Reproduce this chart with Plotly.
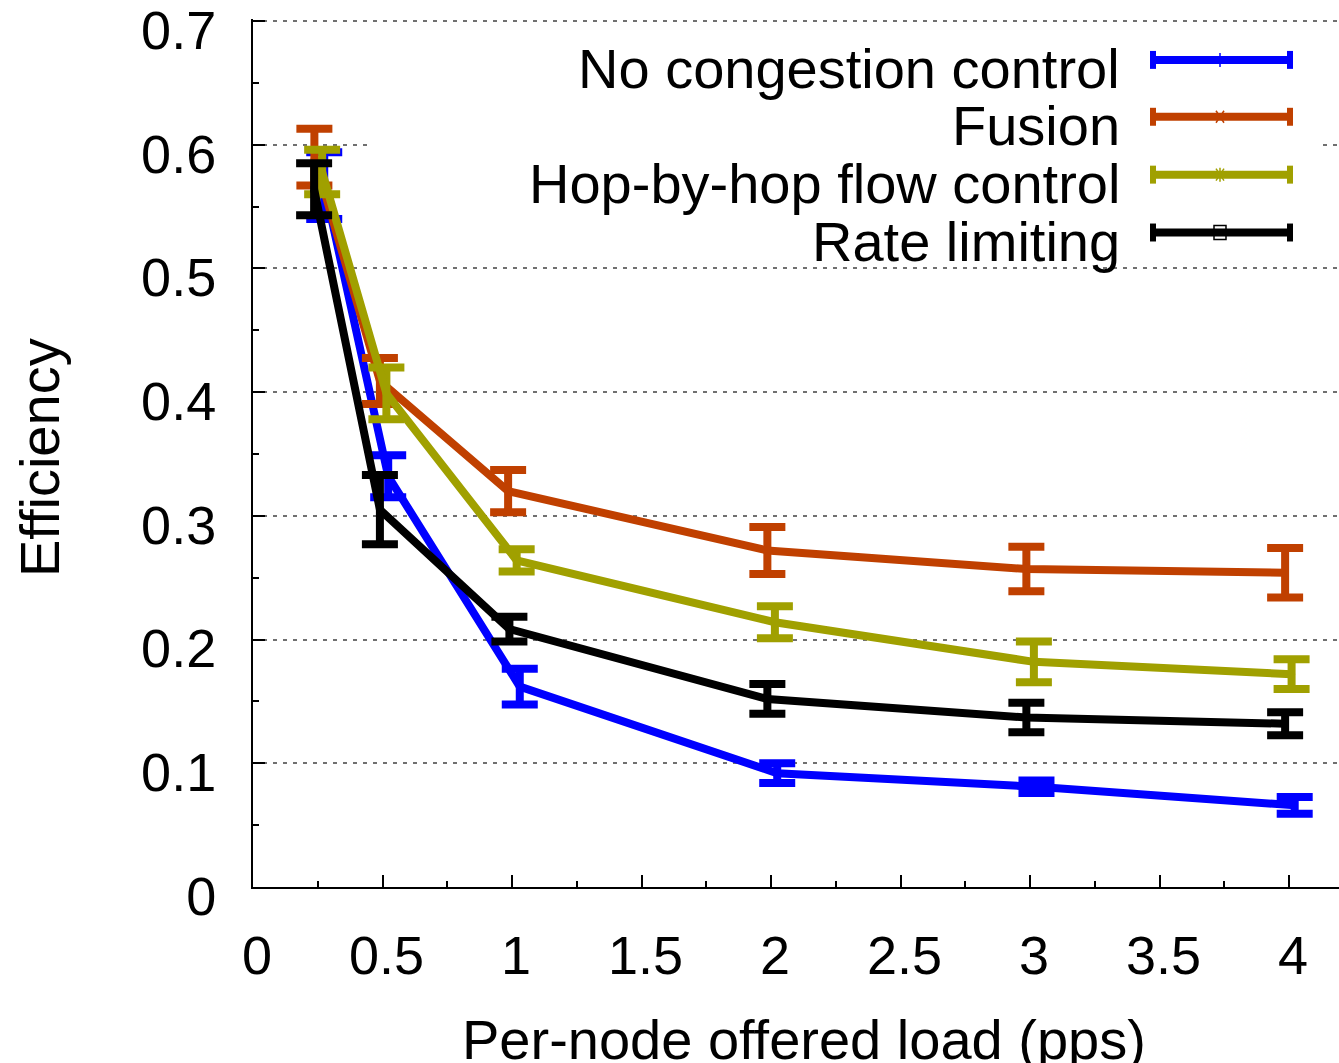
import plotly.graph_objects as go

# Per-node offered load (pps) at which each scheme was measured
load_none = [0.275, 0.522, 1.03, 2.024, 3.025, 4.022]
load_fusion = [0.237, 0.49, 0.985, 1.986, 2.986, 3.985]
load_hop = [0.267, 0.515, 1.018, 2.015, 3.015, 4.01]
load_rate = [0.236, 0.49, 0.99, 1.986, 2.986, 3.985]

# Mean efficiency and error-bar half-widths
eff_none = [0.567, 0.332, 0.162, 0.092, 0.081, 0.066]
err_none = [0.027, 0.017, 0.0145, 0.008, 0.005, 0.0067]
eff_fusion = [0.590, 0.409, 0.320, 0.272, 0.257, 0.254]
err_fusion = [0.023, 0.0185, 0.017, 0.019, 0.018, 0.020]
eff_hop = [0.578, 0.399, 0.264, 0.214, 0.182, 0.172]
err_hop = [0.018, 0.021, 0.009, 0.013, 0.0165, 0.012]
eff_rate = [0.564, 0.305, 0.2085, 0.152, 0.137, 0.132]
err_rate = [0.021, 0.028, 0.010, 0.012, 0.012, 0.0093]

names = ["No congestion control", "Fusion", "Hop-by-hop flow control", "Rate limiting"]
colors = ["#0000FF", "#C04000", "#A0A000", "#000000"]
symbols = ["line-ns", "x-thin", "asterisk", "square-open"]

x_ticks = [0, 0.5, 1, 1.5, 2, 2.5, 3, 3.5, 4]
y_ticks = [0, 0.1, 0.2, 0.3, 0.4, 0.5, 0.6, 0.7]

FONT = "Liberation Sans, Arial, sans-serif"
FS = 56       # key and axis titles
FS_TICK = 54  # tick labels

W, H = 1339, 1063
L, T, R, B = 253, 17, 0, 176
PW, PH = W - L - R, H - T - B
X_UNIT = 259.0    # px per pps
Y_UNIT = 1240.0   # px per unit of efficiency


def px(x):
    return (x - L) / PW


def py(y):
    return (H - B - y) / PH


series = [
    (load_none, eff_none, err_none),
    (load_fusion, eff_fusion, err_fusion),
    (load_hop, eff_hop, err_hop),
    (load_rate, eff_rate, err_rate),
]

fig = go.Figure()
for (xs, ys, es), name, col, sym in zip(series, names, colors, symbols):
    fig.add_trace(go.Scatter(
        x=xs, y=ys, name=name, mode="lines+markers",
        line=dict(color=col, width=8),
        marker=dict(symbol=sym, size=6, color=col, line=dict(color=col, width=1)),
        error_y=dict(type="data", array=es, visible=True, color=col,
                     thickness=8, width=18),
        showlegend=False,
    ))

shapes = []
annotations = []

# opaque key box (nothing from the data reaches this region)
shapes.append(dict(type="rect", xref="paper", yref="paper",
                   x0=px(370), x1=px(1320), y0=py(262), y1=py(28),
                   fillcolor="white", line=dict(width=0), layer="above"))

row_y = [58, 115, 173, 231]
sx0, sx1, smid = 1150, 1293, 1220
for name, col, sym, ry in zip(names, colors, symbols, row_y):
    annotations.append(dict(text=name, xref="paper", yref="paper",
                            x=px(1122), y=py(ry + 9), xanchor="right", yanchor="middle",
                            showarrow=False, font=dict(family=FONT, size=FS, color="black")))
    shapes.append(dict(type="line", xref="paper", yref="paper",
                       x0=px(sx0), x1=px(sx1), y0=py(ry), y1=py(ry),
                       line=dict(color=col, width=8)))
    for ex in (sx0 + 3, sx1 - 3):
        shapes.append(dict(type="line", xref="paper", yref="paper",
                           x0=px(ex), x1=px(ex), y0=py(ry - 9), y1=py(ry + 9),
                           line=dict(color=col, width=6)))
    # point symbol in the middle of the sample
    if sym == "line-ns":
        shapes.append(dict(type="line", xref="paper", yref="paper",
                           x0=px(smid), x1=px(smid), y0=py(ry - 7), y1=py(ry + 7),
                           line=dict(color=col, width=1.5)))
    elif sym == "x-thin":
        for d in (1, -1):
            shapes.append(dict(type="line", xref="paper", yref="paper",
                               x0=px(smid - 4), x1=px(smid + 4), y0=py(ry - 6 * d), y1=py(ry + 6 * d),
                               line=dict(color=col, width=1.5)))
    elif sym == "asterisk":
        for d in (1, -1):
            shapes.append(dict(type="line", xref="paper", yref="paper",
                               x0=px(smid - 4), x1=px(smid + 4), y0=py(ry - 6 * d), y1=py(ry + 6 * d),
                               line=dict(color=col, width=1.5)))
        shapes.append(dict(type="line", xref="paper", yref="paper",
                           x0=px(smid), x1=px(smid), y0=py(ry - 7), y1=py(ry + 7),
                           line=dict(color=col, width=1.5)))
    else:
        shapes.append(dict(type="rect", xref="paper", yref="paper",
                           x0=px(smid - 6), x1=px(smid + 6), y0=py(ry + 7), y1=py(ry - 7),
                           line=dict(color="black", width=1.5), fillcolor="rgba(0,0,0,0)"))

annotations.append(dict(text="Efficiency", xref="paper", yref="paper",
                        x=px(40), y=py(457), textangle=-90, xanchor="center", yanchor="middle",
                        showarrow=False, font=dict(family=FONT, size=FS, color="black")))
annotations.append(dict(text="Per-node offered load (pps)", xref="paper", yref="paper",
                        x=px(804), y=py(1040), xanchor="center", yanchor="middle",
                        showarrow=False, font=dict(family=FONT, size=FS, color="black")))

fig.update_layout(
    width=W, height=H,
    margin=dict(l=L, r=R, t=T, b=B, pad=0),
    paper_bgcolor="white", plot_bgcolor="white",
    font=dict(family=FONT, size=FS, color="black"),
    shapes=shapes, annotations=annotations,
    showlegend=False,
    xaxis=dict(
        range=[0, PW / X_UNIT], tickmode="array", tickvals=x_ticks,
        ticktext=[f"{v:g}" for v in x_ticks],
        ticks="inside", ticklen=12, tickwidth=1.5, tickcolor="black",
        minor=dict(ticks="inside", ticklen=6, tickwidth=1.5, tickcolor="black",
                   tickvals=[0.25, 0.75, 1.25, 1.75, 2.25, 2.75, 3.25, 3.75], showgrid=False),
        showline=True, linecolor="black", linewidth=2,
        showgrid=False, zeroline=False,
        tickfont=dict(family=FONT, size=FS_TICK), ticklabelstandoff=20, ticklabelshift=4,
    ),
    yaxis=dict(
        range=[0, PH / Y_UNIT], tickmode="array", tickvals=y_ticks,
        ticktext=[f"{v:g}" for v in y_ticks],
        ticks="inside", ticklen=12, tickwidth=1.5, tickcolor="black",
        minor=dict(ticks="inside", ticklen=6, tickwidth=1.5, tickcolor="black",
                   tickvals=[0.05, 0.15, 0.25, 0.35, 0.45, 0.55, 0.65], showgrid=False),
        showline=True, linecolor="black", linewidth=2,
        showgrid=True, gridcolor="#707070", gridwidth=1.5, griddash="4px,6px",
        zeroline=False,
        tickfont=dict(family=FONT, size=FS_TICK), ticklabelstandoff=24, ticklabelshift=9,
        ticklabeloverflow="allow",
    ),
)

fig.write_html("out.html")
